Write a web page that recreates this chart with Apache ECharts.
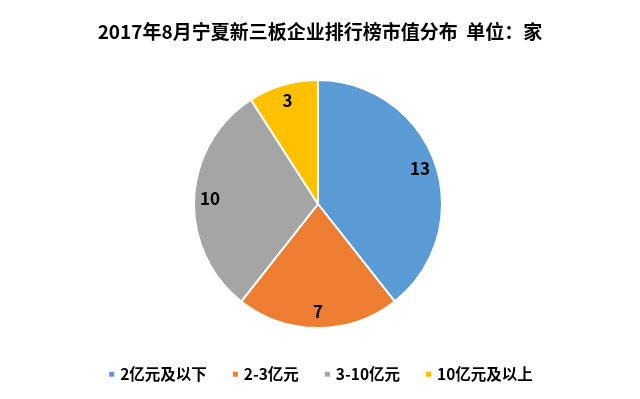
<!DOCTYPE html>
<html>
<head>
<meta charset="utf-8">
<script src="https://cdn.jsdelivr.net/npm/echarts@6/dist/echarts.min.js"></script>
<style>
html,body{margin:0;padding:0;background:#fff;}
#main{width:640px;height:399px;}
</style>
</head>
<body>
<div id="main"></div>
<script>
// 数据
var categories = ['2亿元及以下', '2-3亿元', '3-10亿元', '10亿元及以上'];
var values = [13, 7, 10, 3];
var colors = ['#5B9BD5', '#ED7D31', '#A5A5A5', '#FFC000'];

var pieData = categories.map(function (name, i) {
    return {name: name, value: values[i]};
});

var myChart = echarts.init(document.getElementById('main'));
var option = {
    backgroundColor: '#fff',
    color: colors,
    animation: false,
    title: {
        text: '2017年8月宁夏新三板企业排行榜市值分布  单位：家',
        left: 'center',
        top: 17,
        textStyle: {
            fontFamily: 'Noto Sans CJK SC',
            fontSize: 19,
            fontWeight: 'bold',
            color: '#000'
        }
    },
    legend: {
        data: categories,
        bottom: 12,
        left: 'center',
        icon: 'rect',
        itemWidth: 7,
        itemHeight: 7,
        itemGap: 24,
        textStyle: {
            fontFamily: 'Noto Sans CJK SC',
            fontSize: 15.5,
            fontWeight: 'bold',
            color: '#000'
        }
    },
    series: [
        {
            type: 'pie',
            center: [318, 204],
            radius: [0, 124],
            startAngle: 90,
            clockwise: true,
            silent: true,
            itemStyle: {borderColor: '#fff', borderWidth: 2},
            label: {show: false},
            labelLine: {show: false},
            data: pieData
        },
        {
            // 透明外环，仅用来放数值标签
            type: 'pie',
            center: [318, 204],
            radius: [86, 124],
            startAngle: 90,
            clockwise: true,
            silent: true,
            itemStyle: {color: 'rgba(0,0,0,0)'},
            label: {
                show: true,
                position: 'inside',
                formatter: '{c}',
                fontFamily: 'Noto Sans CJK SC',
                fontSize: 17,
                fontWeight: 'bold',
                color: '#000'
            },
            labelLine: {show: false},
            data: pieData
        }
    ]
};
myChart.setOption(option);
</script>
</body>
</html>
